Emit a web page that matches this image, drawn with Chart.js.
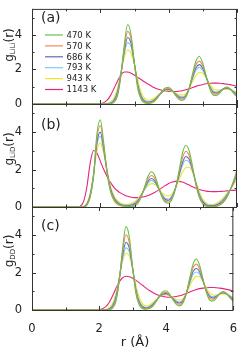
<!DOCTYPE html>
<html>
<head>
<meta charset="utf-8">
<script src="https://cdn.jsdelivr.net/npm/chart.js@4.4.1/dist/chart.umd.min.js"></script>
<style>
html, body { margin: 0; padding: 0; background: #fff; }
canvas { position: absolute; left: 0; top: 0; }
</style>
</head>
<body>
<canvas id="pa" width="241" height="352"></canvas>
<canvas id="pb" width="241" height="352"></canvas>
<canvas id="pc" width="241" height="352"></canvas>
<script>
// r grid (Angstrom), shared by every curve
const r = [0,1.3,1.4,1.5,1.6,1.7,1.8,1.9,2.0,2.1,2.2,2.3,2.4,2.5,2.6,2.7,2.8,2.9,3.0,3.1,3.2,3.3,3.4,3.5,3.6,3.7,3.8,3.9,4.0,4.1,4.2,4.3,4.4,4.5,4.6,4.7,4.8,4.9,5.0,5.1,5.2,5.3,5.4,5.5,5.6,5.7,5.8,5.9,6.0];
const temps = ["470 K", "570 K", "686 K", "793 K", "943 K", "1143 K"];
const colors = ["#6abf47", "#f4875f", "#5b6bb3", "#7ccdf0", "#f2e61e", "#e8237c"];
const xTicks = [0, 2, 4, 6];
const yTicks = [0, 2, 4];

// g_LiLi(r)
const lili470 = [0, 0,0,0,0,0,0,0,0,0,0, 0.02,0.1,0.45,1.6,3.4,4.6,4.0,2.3,0.85,0.25, 0.06,0.03,0.06,0.18,0.42,0.72,0.93,0.97,0.8,0.5, 0.27,0.2,0.38,0.9,1.75,2.5,2.75,2.35,1.6,0.9, 0.52,0.48,0.65,0.88,0.98,0.88,0.62,0.42];
const lili570 = [0, 0,0,0,0,0,0,0,0,0,0, 0.03,0.14,0.55,1.65,3.2,4.2,3.75,2.3,0.95,0.32, 0.1,0.06,0.1,0.22,0.45,0.7,0.87,0.9,0.78,0.55, 0.35,0.28,0.42,0.9,1.65,2.28,2.48,2.2,1.6,0.98, 0.62,0.56,0.7,0.88,0.94,0.86,0.66,0.5];
const lili686 = [0, 0,0,0,0,0,0,0,0,0,0.01, 0.05,0.2,0.65,1.7,3.05,3.85,3.5,2.3,1.05,0.4, 0.15,0.1,0.14,0.26,0.47,0.68,0.83,0.86,0.76,0.58, 0.41,0.35,0.47,0.9,1.55,2.1,2.28,2.05,1.55,1.02, 0.7,0.63,0.73,0.87,0.92,0.86,0.7,0.55];
const lili793 = [0, 0,0,0,0,0,0,0,0,0,0.02, 0.07,0.26,0.75,1.75,2.9,3.55,3.3,2.3,1.15,0.48, 0.2,0.14,0.18,0.3,0.5,0.67,0.8,0.83,0.75,0.6, 0.46,0.41,0.52,0.9,1.45,1.95,2.12,1.95,1.52,1.06, 0.76,0.69,0.76,0.87,0.9,0.86,0.73,0.6];
const lili943 = [0, 0,0,0,0,0,0,0,0,0.01,0.04, 0.12,0.36,0.9,1.8,2.7,3.12,2.95,2.25,1.35,0.65, 0.32,0.22,0.26,0.38,0.53,0.67,0.76,0.78,0.74,0.64, 0.55,0.52,0.6,0.88,1.3,1.65,1.82,1.78,1.5,1.15, 0.9,0.8,0.8,0.84,0.86,0.83,0.76,0.68];
const lili1143 = [0, 0,0,0,0,0,0,0,0.02,0.08,0.22, 0.5,0.9,1.32,1.68,1.85,1.85,1.78,1.66,1.53,1.4, 1.27,1.15,1.03,0.93,0.85,0.79,0.75,0.73,0.72,0.72, 0.74,0.77,0.82,0.88,0.95,1.02,1.08,1.13,1.17,1.2, 1.21,1.21,1.2,1.18,1.15,1.12,1.07,1.02];

// g_LiD(r)
const lid470 = [0, 0,0,0,0.08,0.5,1.6,3.9,4.65,3.4,1.8, 0.8,0.35,0.15,0.07,0.04,0.02,0.02,0.05,0.2,0.55, 1.1,1.65,1.88,1.65,1.1,0.55,0.25,0.2,0.42,1.0, 1.9,2.85,3.3,3.0,2.15,1.2,0.5,0.15,0.04,0.01, 0.01,0.03,0.1,0.25,0.5,0.9,1.4,2.0];
const lid570 = [0, 0,0,0,0.1,0.55,1.65,3.65,4.35,3.25,1.8, 0.88,0.42,0.2,0.09,0.05,0.04,0.05,0.1,0.27,0.6, 1.05,1.5,1.68,1.5,1.05,0.6,0.32,0.27,0.48,1.0, 1.8,2.6,2.98,2.75,2.05,1.2,0.55,0.2,0.07,0.03, 0.03,0.06,0.14,0.3,0.55,0.9,1.35,1.85];
const lid686 = [0, 0,0,0.01,0.13,0.6,1.7,3.45,4.0,3.1,1.85, 0.95,0.48,0.24,0.12,0.08,0.07,0.09,0.16,0.33,0.63, 1.0,1.38,1.52,1.38,1.02,0.64,0.4,0.36,0.55,1.0, 1.68,2.35,2.7,2.55,1.98,1.25,0.62,0.27,0.11,0.06, 0.06,0.1,0.2,0.36,0.6,0.92,1.3,1.75];
const lid793 = [0, 0,0,0.01,0.15,0.65,1.72,3.3,3.78,2.98,1.88, 1.0,0.52,0.27,0.15,0.1,0.1,0.13,0.21,0.38,0.65, 0.97,1.28,1.42,1.3,1.0,0.68,0.47,0.43,0.6,1.0, 1.6,2.2,2.5,2.4,1.92,1.27,0.68,0.32,0.15,0.09, 0.09,0.14,0.25,0.42,0.65,0.93,1.28,1.65];
const lid943 = [0, 0,0,0.02,0.18,0.7,1.72,3.0,3.42,2.85,1.95, 1.12,0.62,0.34,0.2,0.14,0.14,0.18,0.28,0.45,0.7, 0.95,1.15,1.25,1.2,1.0,0.78,0.62,0.58,0.7,1.0, 1.42,1.85,2.1,2.12,1.85,1.35,0.82,0.42,0.2,0.13, 0.13,0.2,0.32,0.5,0.72,0.95,1.2,1.45];
const lid1143 = [0, 0,0.03,0.25,1.0,2.3,3.02,2.88,2.45,2.0,1.62, 1.3,1.05,0.87,0.74,0.64,0.57,0.52,0.5,0.5,0.52, 0.56,0.62,0.7,0.79,0.9,1.02,1.14,1.25,1.33,1.37, 1.37,1.33,1.26,1.17,1.08,1.0,0.93,0.88,0.85,0.83, 0.82,0.82,0.83,0.84,0.86,0.88,0.89,0.9];

// g_DD(r)
const dd470 = [0, 0,0,0,0,0,0,0,0,0,0, 0.02,0.1,0.45,1.55,3.3,4.45,3.9,2.25,0.85,0.25, 0.07,0.04,0.08,0.2,0.45,0.76,0.98,1.03,0.85,0.55, 0.3,0.22,0.38,0.88,1.7,2.45,2.72,2.35,1.62,0.92, 0.52,0.48,0.65,0.88,0.98,0.88,0.64,0.45];
const dd570 = [0, 0,0,0,0,0,0,0,0,0,0, 0.03,0.14,0.55,1.6,3.08,4.02,3.6,2.22,0.95,0.33, 0.11,0.07,0.11,0.24,0.47,0.73,0.9,0.94,0.8,0.57, 0.37,0.3,0.44,0.9,1.62,2.25,2.45,2.18,1.6,0.98, 0.63,0.57,0.7,0.88,0.94,0.86,0.67,0.5];
const dd686 = [0, 0,0,0,0,0,0,0,0,0,0.01, 0.05,0.2,0.65,1.65,2.9,3.62,3.3,2.2,1.03,0.4, 0.16,0.11,0.15,0.28,0.5,0.71,0.86,0.89,0.78,0.6, 0.43,0.37,0.49,0.9,1.52,2.05,2.22,2.02,1.54,1.02, 0.71,0.64,0.74,0.87,0.92,0.86,0.71,0.56];
const dd793 = [0, 0,0,0,0,0,0,0,0,0,0.02, 0.07,0.26,0.75,1.68,2.72,3.32,3.1,2.18,1.12,0.48, 0.21,0.15,0.19,0.32,0.52,0.7,0.82,0.85,0.77,0.62, 0.48,0.43,0.54,0.9,1.42,1.9,2.03,1.9,1.5,1.06, 0.77,0.7,0.77,0.87,0.9,0.86,0.74,0.61];
const dd943 = [0, 0,0,0,0,0,0,0,0,0.01,0.04, 0.12,0.36,0.88,1.75,2.62,3.03,2.88,2.2,1.32,0.65, 0.33,0.23,0.27,0.4,0.56,0.7,0.79,0.8,0.75,0.65, 0.56,0.53,0.61,0.88,1.28,1.63,1.8,1.77,1.5,1.15, 0.9,0.8,0.8,0.84,0.86,0.83,0.76,0.68];
const dd1143 = [0, 0,0,0,0,0,0,0,0.02,0.07,0.18, 0.4,0.75,1.15,1.5,1.72,1.8,1.78,1.7,1.58,1.45, 1.31,1.17,1.04,0.93,0.84,0.77,0.72,0.69,0.68,0.69, 0.72,0.76,0.82,0.89,0.96,1.03,1.09,1.14,1.17,1.19, 1.2,1.2,1.19,1.17,1.14,1.1,1.06,1.01];

const FONT = "DejaVu Sans";
const INK = "#222";

// frame, inward ticks, labels (drawn after the chart)
function decoPlugin(tag, sub, tagY, titleY, legend) {
    return {
        id: "deco",
        afterDraw(chart) {
            var ctx = chart.ctx;
            var a = chart.chartArea;
            var xs = chart.scales.x, ys = chart.scales.y;
            ctx.save();
            ctx.strokeStyle = "#333";
            ctx.lineWidth = 1;
            ctx.strokeRect(a.left + 0.5, a.top + 0.5, a.right - a.left - 1, a.bottom - a.top);
            ctx.beginPath();
            for (let v = 0; v <= 6; v++) {
                let px = Math.round(xs.getPixelForValue(v)) + 0.5;
                let len = v % 2 == 0 ? 4 : 2.5;
                ctx.moveTo(px, a.bottom); ctx.lineTo(px, a.bottom - len);
                ctx.moveTo(px, a.top); ctx.lineTo(px, a.top + len);
            }
            for (let v = 0; v <= 5; v++) {
                let py = Math.round(ys.getPixelForValue(v)) + 0.5;
                let len = v % 2 == 0 ? 4 : 2.5;
                ctx.moveTo(a.left, py); ctx.lineTo(a.left + len, py);
                ctx.moveTo(a.right, py); ctx.lineTo(a.right - len, py);
            }
            ctx.stroke();

            ctx.fillStyle = INK;
            ctx.textBaseline = "middle";
            ctx.textAlign = "left";
            ctx.font = "14px " + FONT;
            ctx.fillText(tag, 41, tagY);

            // y title: g_sub(r), rotated
            ctx.save();
            ctx.translate(12.5, titleY);
            ctx.rotate(-Math.PI / 2);
            ctx.textBaseline = "alphabetic";
            ctx.font = "12px " + FONT;
            let w1 = ctx.measureText("g").width;
            let w3 = ctx.measureText("(r)").width;
            ctx.font = "7px " + FONT;
            let w2 = ctx.measureText(sub).width;
            let x0 = -(w1 + w2 + w3) / 2;
            ctx.font = "12px " + FONT;
            ctx.fillText("g", x0, 0);
            ctx.fillText("(r)", x0 + w1 + w2, 0);
            ctx.font = "7px " + FONT;
            ctx.fillText(sub, x0 + w1, 2.5);
            ctx.restore();

            if (legend) {
                ctx.font = "8.5px " + FONT;
                ctx.lineWidth = 1.2;
                for (let i = 0; i < temps.length; i++) {
                    let ly = 35 + i * 10.9;
                    ctx.strokeStyle = colors[i];
                    ctx.beginPath();
                    ctx.moveTo(45, ly); ctx.lineTo(63, ly);
                    ctx.stroke();
                    ctx.fillText(temps[i], 66.5, ly + 0.5);
                }
            }
            if (chart.canvas.id == "pc") {
                ctx.textAlign = "center";
                ctx.font = "13px " + FONT;
                ctx.fillText("r (\u00c5)", 135, 343);
            }
            ctx.restore();
        }
    };
}

function makePanel(id, series, top, bottom, tag, sub, tagY, titleY, legend) {
    var last = id == "pc";
    var datasets = series.map(function (vals, i) {
        return {
            label: temps[i],
            data: r.map(function (x, j) { return { x: x, y: vals[j] }; }),
            borderColor: colors[i],
            borderWidth: 1.1,
            pointRadius: 0,
            fill: false,
            cubicInterpolationMode: "monotone"
        };
    });
    return new Chart(document.getElementById(id), {
        type: "line",
        data: { datasets: datasets },
        options: {
            responsive: false,
            animation: false,
            events: [],
            layout: { autoPadding: false, padding: { top: top, bottom: last ? 0 : 352 - bottom, left: 0, right: 4 } },
            plugins: { legend: { display: false }, tooltip: { enabled: false } },
            scales: {
                x: {
                    type: "linear", min: 0, max: 6, display: last,
                    grid: { display: false }, border: { display: false },
                    afterFit: function (s) { s.height = last ? 352 - bottom : 0; },
                    afterBuildTicks: function (s) { s.ticks = xTicks.map(function (v) { return { value: v }; }); },
                    ticks: { color: INK, font: { family: FONT, size: 11.5 }, padding: 4, maxRotation: 0, autoSkip: false }
                },
                y: {
                    type: "linear", min: 0, max: 5.5,
                    grid: { display: false }, border: { display: false },
                    afterFit: function (s) { s.width = 32; },
                    afterBuildTicks: function (s) { s.ticks = yTicks.map(function (v) { return { value: v }; }); },
                    ticks: { color: INK, font: { family: FONT, size: 11.5 }, padding: 2 }
                }
            }
        },
        plugins: [decoPlugin(tag, sub, tagY, titleY, legend)]
    });
}

makePanel("pa", [lili470, lili570, lili686, lili793, lili943, lili1143], 1, 104, "(a)", "LiLi", 18, 45, true);
makePanel("pb", [lid470, lid570, lid686, lid793, lid943, lid1143], 104, 207, "(b)", "LiD", 125, 149, false);
makePanel("pc", [dd470, dd570, dd686, dd793, dd943, dd1143], 207, 310, "(c)", "DD", 226, 251, false);
</script>
</body>
</html>
